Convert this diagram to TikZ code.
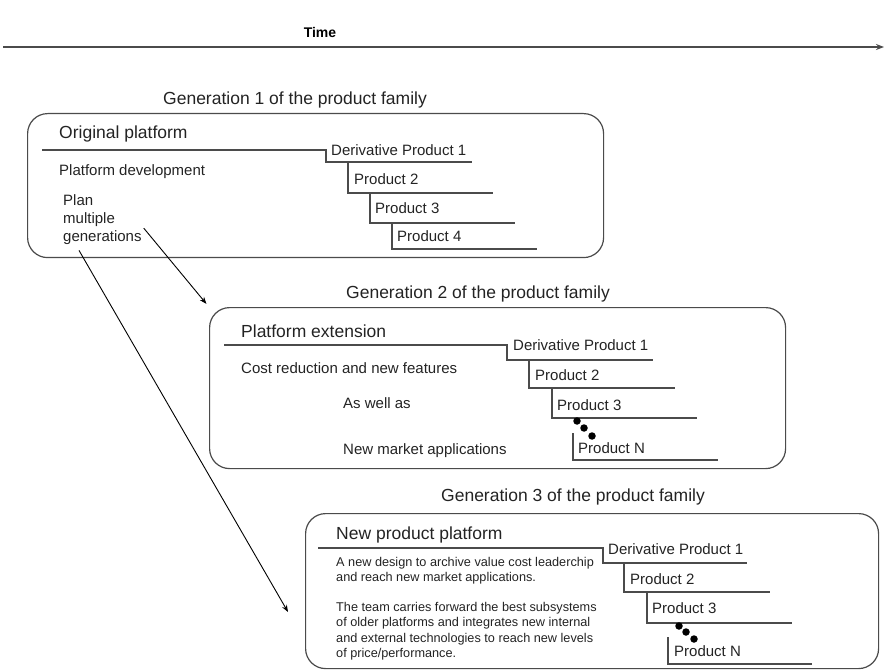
\documentclass[tikz,border=0pt]{standalone}
\usepackage{fontspec}
\setmainfont{Liberation Sans}
\usepackage{tikz}
\usetikzlibrary{arrows.meta, positioning, calc}
\definecolor{inkgray}{RGB}{35,35,35}
\definecolor{linegray}{RGB}{75,75,75}

\begin{document}
\begin{tikzpicture}[x=1pt, y=-1pt, >=Stealth]
  \tikzstyle{genbox} = [draw=linegray, line width=1.2pt, rounded corners=20pt, anchor=north west, inner sep=0pt]
  \tikzstyle{gentitle} = [font=\fontsize{17.5}{21}\selectfont, text=inkgray, inner sep=0pt]
  \tikzstyle{headtext} = [font=\fontsize{17.5}{21}\selectfont, text=inkgray, anchor=base west, inner sep=0pt]
  \tikzstyle{prodtext} = [font=\fontsize{15}{18}\selectfont, text=inkgray, anchor=base west, inner sep=0pt]
  \tikzstyle{notetext} = [font=\fontsize{12.7}{15.5}\selectfont, text=inkgray, anchor=north west, inner sep=0pt, align=left]
  \tikzstyle{stairline} = [draw=linegray, line width=1.3pt]
  \tikzstyle{moredot} = [circle, fill=black, inner sep=0pt, minimum size=7.5pt]
  \tikzstyle{planarrow} = [->, draw=black, line width=0.9pt]

  \useasboundingbox (0,0) rectangle (884,671);

  % time axis
  \node [font=\fontsize{14}{16}\selectfont\bfseries, inner sep=0pt] (time) at (320,32) {Time};
  \coordinate (tstart) at (3,47);
  \coordinate (tend) at (884,47);
  \draw [-{Stealth[length=8pt,width=6pt]}, draw=linegray, line width=1.8pt] (tstart) -- (tend);

  % generation 1
  \node [gentitle] (title1) at (295,100) {Generation 1 of the product family};
  \node [genbox, minimum width=576pt, minimum height=144pt] (gen1) at (27,113) {};
  \node [headtext] (orig) at (59,139) {Original platform};
  \node [prodtext] (dev1) at (59,176) {Platform development};
  \node [prodtext, anchor=north west, align=left, font=\fontsize{15}{18}\selectfont] (plan) at (63,194) {Plan\\multiple\\generations};
  \draw [stairline] (42,150) -- (326,150) -- (326,162) -- (472,162);
  \draw [stairline] (348,162) -- (348,193) -- (493,193);
  \draw [stairline] (370,193) -- (370,223) -- (515,223);
  \draw [stairline] (392,223) -- (392,249) -- (537,249);
  \node [prodtext] (g1p1) at (331,156) {Derivative Product 1};
  \node [prodtext] (g1p2) at (354,185) {Product 2};
  \node [prodtext] (g1p3) at (375,214) {Product 3};
  \node [prodtext] (g1p4) at (397,242) {Product 4};

  % generation 2
  \node [gentitle] (title2) at (478,294) {Generation 2 of the product family};
  \node [genbox, minimum width=576pt, minimum height=161pt] (gen2) at (209,307) {};
  \node [headtext] (ext) at (241,337) {Platform extension};
  \node [prodtext] (cost) at (241,373) {Cost reduction and new features};
  \node [prodtext] (aswell) at (343,408) {As well as};
  \node [prodtext] (market) at (343,454) {New market applications};
  \draw [stairline] (224,345) -- (507,345) -- (507,360) -- (653,360);
  \draw [stairline] (529,360) -- (529,388) -- (675,388);
  \draw [stairline] (552,388) -- (552,418) -- (697,418);
  \draw [stairline] (573,433) -- (573,460) -- (718,460);
  \node [prodtext] (g2p1) at (513,350) {Derivative Product 1};
  \node [prodtext] (g2p2) at (535,380) {Product 2};
  \node [prodtext] (g2p3) at (557,410) {Product 3};
  \node [prodtext] (g2pn) at (578,453) {Product N};
  \node [moredot] at (577,421) {};
  \node [moredot] at (584,428) {};
  \node [moredot] at (592,436) {};

  % generation 3
  \node [gentitle] (title3) at (573,497) {Generation 3 of the product family};
  \node [genbox, minimum width=573pt, minimum height=155pt] (gen3) at (305,513) {};
  \node [headtext] (newplat) at (336,539) {New product platform};
  \node [notetext] (design) at (336,557) {A new design to archive value cost leaderchip\\and reach new market applications.};
  \node [notetext] (team) at (336,602) {The team carries forward the best subsystems\\of older platforms and integrates new internal\\and external technologies to reach new levels\\of price/performance.};
  \draw [stairline] (318,548) -- (603,548) -- (603,563) -- (747,563);
  \draw [stairline] (624,563) -- (624,592) -- (770,592);
  \draw [stairline] (647,592) -- (647,623) -- (792,623);
  \draw [stairline] (668,637) -- (668,664) -- (812,664);
  \node [prodtext] (g3p1) at (608,554) {Derivative Product 1};
  \node [prodtext] (g3p2) at (630,584) {Product 2};
  \node [prodtext] (g3p3) at (652,613) {Product 3};
  \node [prodtext] (g3pn) at (674,656) {Product N};
  \node [moredot] at (679,626) {};
  \node [moredot] at (686,632) {};
  \node [moredot] at (694,639) {};

  % planning arrows
  \coordinate (reach3) at (288,612);
  \draw [planarrow, shorten >=4pt] ($(plan.east)+(2,9)$) -- (gen2.north west);
  \draw [planarrow] ($(plan.south west)+(16,6)$) -- (reach3);
\end{tikzpicture}
\end{document}
